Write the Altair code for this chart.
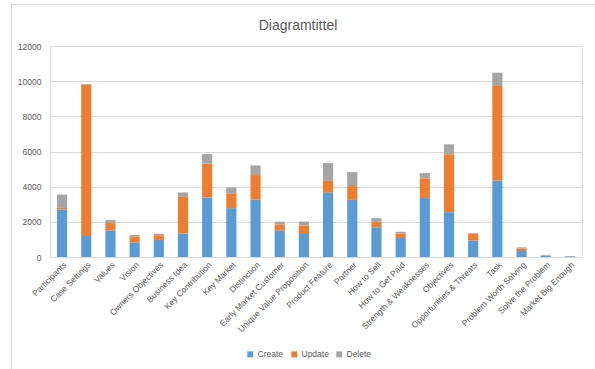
import altair as alt
import pandas as pd

categories = ["Participants", "Case Settings", "Values", "Vision", "Owners Objectives",
              "Business Idea", "Key Contribution", "Key Market", "Distinction",
              "Early Market Customer", "Unique Value Proposition", "Product Feature",
              "Partner", "How to Sell", "How to Get Paid", "Strength & Weaknesses",
              "Objectives", "Opportunities & Threats", "Task", "Problem Worth Solving",
              "Solve the Problem", "Market Big Enough"]
create = [2700, 1200, 1500, 820, 970, 1330, 3380, 2780, 3270, 1500, 1310, 3650,
          3250, 1690, 1080, 3350, 2550, 930, 4330, 340, 60, 40]
update = [90, 8580, 430, 340, 270, 2090, 1920, 810, 1390, 350, 480, 680,
          780, 310, 250, 1120, 3290, 380, 5400, 150, 30, 5]
delete = [760, 50, 180, 90, 80, 250, 550, 360, 550, 160, 230, 1010,
          800, 210, 100, 300, 570, 40, 750, 60, 30, 5]
series = ["Create", "Update", "Delete"]
colors = ["#5B9BD5", "#ED7D31", "#A5A5A5"]

rows = []
for i, c in enumerate(categories):
    for k, (s, vals) in enumerate(zip(series, [create, update, delete])):
        rows.append({"cat": c, "series": s, "value": vals[i], "ord": k})
df = pd.DataFrame(rows)

font = "Liberation Sans"
grey = "#595959"
border = "#d9d9d9"

bars = alt.Chart(df).mark_bar().encode(
    x=alt.X("cat:N", sort=categories, title=None,
            scale=alt.Scale(paddingInner=0.58, paddingOuter=0.29),
            axis=alt.Axis(labelAngle=-45, labelFontSize=8.5, labelColor=grey, labelFont=font,
                          ticks=False, domainColor="#d9d9d9", labelPadding=3, labelLimit=200)),
    y=alt.Y("value:Q", stack="zero", title=None,
            scale=alt.Scale(domain=[0, 12000]),
            axis=alt.Axis(values=[0, 2000, 4000, 6000, 8000, 10000, 12000], format="d",
                          domain=False, ticks=False,
                          labelFontSize=8.5, labelColor=grey, labelFont=font, labelPadding=9,
                          gridColor="#d9d9d9")),
    color=alt.Color("series:N", sort=series, scale=alt.Scale(domain=series, range=colors),
                    legend=alt.Legend(title=None, orient="none", direction="horizontal",
                                      legendX=196, legendY=304, symbolType="square", symbolSize=36,
                                      labelFontSize=8.5, labelColor=grey, labelFont=font,
                                      columnPadding=6, labelOffset=3, symbolOffset=0)),
    order=alt.Order("ord:Q", sort="ascending"),
)

top_line = alt.Chart(df).mark_rule(color=border, strokeWidth=1, clip=False).encode(
    x=alt.value(-39), x2=alt.value(560), y=alt.value(-41.5))
left_line = alt.Chart(df).mark_rule(color=border, strokeWidth=1, clip=False).encode(
    x=alt.value(-38.5), y=alt.value(-42), y2=alt.value(330))

chart = alt.layer(bars, top_line, left_line).properties(
    width=532, height=211,
    title=alt.TitleParams("Diagramtittel", fontSize=14, font=font, color=grey, fontWeight="normal",
                          anchor="middle", dx=-18, offset=10, dy=39),
    autosize=alt.AutoSizeParams(type="none"),
    padding={"left": 50, "top": 46, "right": 13, "bottom": 112},
).configure_view(stroke=None).configure(background="white")

chart.save("out.html", embed_options={"renderer": "svg", "actions": False})
